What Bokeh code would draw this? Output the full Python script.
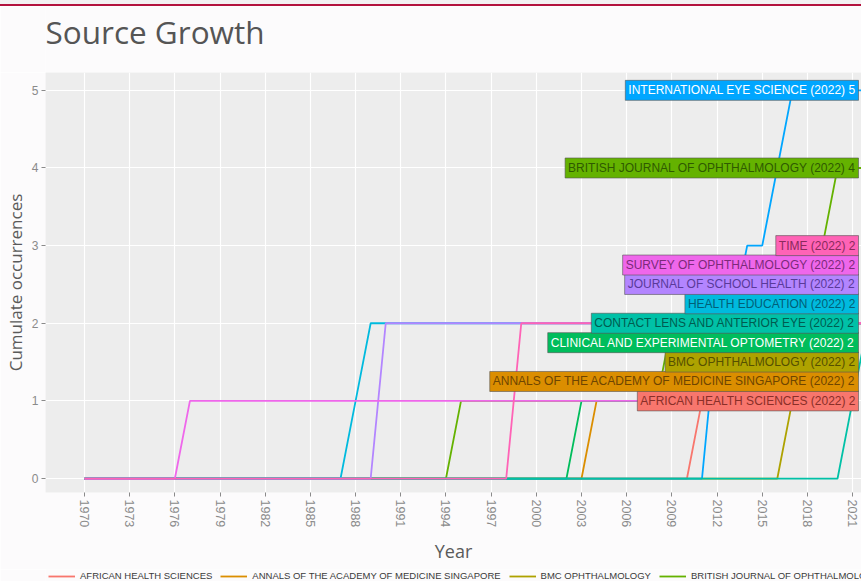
import numpy as np
from bokeh.plotting import figure
from bokeh.models import Range1d, FixedTicker, Label, Legend, LegendItem, Div, Title
from bokeh.layouts import column
from bokeh.embed import file_html
from bokeh.resources import INLINE

# ---------------- data ----------------
title_text = "Source Growth"
x_title = "Year"
y_title = "Cumulate occurrences"

sources = [
    "AFRICAN HEALTH SCIENCES",
    "ANNALS OF THE ACADEMY OF MEDICINE SINGAPORE",
    "BMC OPHTHALMOLOGY",
    "BRITISH JOURNAL OF OPHTHALMOLOGY",
    "CLINICAL AND EXPERIMENTAL OPTOMETRY",
    "CONTACT LENS AND ANTERIOR EYE",
    "HEALTH EDUCATION",
    "INTERNATIONAL EYE SCIENCE",
    "JOURNAL OF SCHOOL HEALTH",
    "SURVEY OF OPHTHALMOLOGY",
    "TIME",
]

# cumulative occurrences: (year, value) vertices
african_years = [1970, 2010, 2011, 2013, 2014, 2022]
african_cum = [0, 0, 1, 1, 2, 2]
annals_years = [1970, 2003, 2004, 2016, 2017, 2022]
annals_cum = [0, 0, 1, 1, 2, 2]
bmc_years = [1970, 2016, 2017, 2020, 2021, 2022]
bmc_cum = [0, 0, 1, 1, 2, 2]
british_years = [1970, 1994, 1995, 2008, 2009, 2018, 2019, 2020, 2022]
british_cum = [0, 0, 1, 1, 2, 2, 3, 4, 4]
clinical_years = [1970, 2002, 2003, 2014, 2015, 2022]
clinical_cum = [0, 0, 1, 1, 2, 2]
contact_years = [1970, 2020, 2021, 2022]
contact_cum = [0, 0, 1, 2]
health_years = [1970, 1987, 1988, 1989, 2022]
health_cum = [0, 0, 1, 2, 2]
intl_years = [1970, 2011, 2012, 2013, 2014, 2015, 2016, 2017, 2022]
intl_cum = [0, 0, 2, 2, 3, 3, 4, 5, 5]
school_years = [1970, 1989, 1990, 2022]
school_cum = [0, 0, 2, 2]
survey_years = [1970, 1976, 1977, 2019, 2020, 2022]
survey_cum = [0, 0, 1, 1, 2, 2]
time_years = [1970, 1998, 1999, 2022]
time_cum = [0, 0, 2, 2]

series_years = [african_years, annals_years, bmc_years, british_years, clinical_years,
                contact_years, health_years, intl_years, school_years, survey_years, time_years]
series_cum = [african_cum, annals_cum, bmc_cum, british_cum, clinical_cum,
              contact_cum, health_cum, intl_cum, school_cum, survey_cum, time_cum]

final_year = 2022
final_counts = [2, 2, 2, 4, 2, 2, 2, 5, 2, 2, 2]

year_ticks = [1970, 1973, 1976, 1979, 1982, 1985, 1988, 1991, 1994, 1997,
              2000, 2003, 2006, 2009, 2012, 2015, 2018, 2021]
y_ticks = [0, 1, 2, 3, 4, 5]

# ---------------- style ----------------
colors = ["#F8766D", "#DB8E00", "#AEA200", "#64B200", "#00BD5C", "#00C1A7",
          "#00BADE", "#00A6FF", "#B385FF", "#EF67EB", "#FF63B6"]
label_text_colors = ["#8a2f28", "#6e4500", "#555000", "#2f5a00", "#ffffff", "#005c50",
                     "#005f78", "#ffffff", "#5a3a9a", "#7c2a7a", "#8a2a5c"]
draw_order = [0, 1, 2, 3, 4, 6, 7, 5, 8, 9, 10]
page_bg = "#fcfbfc"
W = 861
LEFT = 45   # left border shared (aligned) by all stacked figures

x_lo, x_hi = 1967.41, 2021.59
y_lo, y_hi = -0.18, 5.23


def bare_figure(h):
    f = figure(width=W, height=h, x_range=Range1d(0, W - LEFT), y_range=Range1d(0, h),
               output_backend="svg", toolbar_location=None, title=None,
               x_axis_location=None, y_axis_location=None,
               min_border=0, min_border_left=LEFT, min_border_right=0,
               min_border_top=0, min_border_bottom=0)
    f.grid.visible = False
    f.outline_line_color = None
    f.background_fill_color = page_bg
    f.border_fill_color = page_bg
    return f


# thin page header line
top_bar = Div(text="", width=W, height=6, margin=0,
              styles={"background-color": "#f3f1f2", "border-bottom": "2px solid #b3123e",
                      "box-sizing": "border-box"})

# ---- title strip ----
title_fig = bare_figure(66)
title_fig.add_layout(Label(x=0, y=41, x_units="data", y_units="data", text=title_text,
                           text_align="left", text_baseline="alphabetic",
                           text_font="Open Sans", text_font_size="31.5px",
                           text_color="#555555"))

# ---- main plot ----
p = figure(width=W, height=497, x_range=Range1d(x_lo, x_hi), y_range=Range1d(y_lo, y_hi),
           output_backend="svg", toolbar_location=None, title=None,
           min_border_left=LEFT, min_border_right=0, min_border_top=0, min_border_bottom=77)

p.background_fill_color = "#ededed"
p.border_fill_color = page_bg
p.outline_line_color = None

# grid
p.xgrid.ticker = FixedTicker(ticks=year_ticks)
p.ygrid.ticker = FixedTicker(ticks=y_ticks)
p.grid.grid_line_color = "white"
p.grid.grid_line_width = 1.2

# axes
p.xaxis.ticker = FixedTicker(ticks=year_ticks)
p.yaxis.ticker = FixedTicker(ticks=y_ticks)
for ax in (p.xaxis[0], p.yaxis[0]):
    ax.axis_line_color = None
    ax.major_tick_in = 0
    ax.major_tick_out = 4
    ax.major_tick_line_color = "#8a8a8a"
    ax.minor_tick_line_color = None
    ax.major_label_text_color = "#8a8a8a"
    ax.major_label_text_font = "Liberation Sans"
    ax.major_label_standoff = 3
p.xaxis.major_label_orientation = "vertical"
p.xaxis.major_label_text_font_size = "12.5px"
p.yaxis.major_label_text_font_size = "12px"

p.yaxis.axis_label = y_title
p.yaxis.axis_label_text_font = "Open Sans"
p.yaxis.axis_label_text_font_size = "17px"
p.yaxis.axis_label_text_font_style = "normal"
p.yaxis.axis_label_text_color = "#5a5a5a"
p.yaxis.axis_label_standoff = 2

# x-axis title, centred on the original (wider) panel
p.add_layout(Title(text=x_title, align="center", offset=23, standoff=13,
                   text_font="Open Sans", text_font_size="18px", text_font_style="normal",
                   text_color="#5a5a5a"), "below")

# lines
renderers = {}
for i in draw_order:
    renderers[i] = p.line(series_years[i], series_cum[i], line_color=colors[i], line_width=1.8)

# end labels (stack ties)
groups = {}
for i, v in enumerate(final_counts):
    groups.setdefault(v, []).append(i)
for v, idx in groups.items():
    n = len(idx)
    for k, i in enumerate(idx):
        ly = v + (k - (n - 1) / 2.0) * 0.25
        p.add_layout(Label(x=x_hi, y=ly, x_units="data", y_units="data", x_offset=-3,
                           text=f"{sources[i]} ({final_year}) {final_counts[i]}",
                           text_align="right", text_baseline="middle",
                           text_font="Liberation Sans", text_font_size="12px",
                           text_color=label_text_colors[i],
                           background_fill_color=colors[i], background_fill_alpha=1.0,
                           border_line_color="#555555", border_line_alpha=0.6,
                           padding=3))

# ---- legend strip (its lines carry the same series, outside this strip's view) ----
leg_fig = bare_figure(12)
leg_items = []
for i in range(len(sources)):
    r = leg_fig.line(series_years[i], series_cum[i], line_color=colors[i], line_width=1.8)
    leg_items.append(LegendItem(label=sources[i], renderers=[r]))
legend = Legend(items=leg_items, orientation="horizontal", location=(3, 0),
                label_text_font="Liberation Sans", label_text_font_size="9.5px",
                label_text_color="#3a3a3a", glyph_width=27, glyph_height=10,
                label_standoff=5, spacing=8, padding=0, margin=0,
                background_fill_alpha=0, border_line_color=None)
leg_fig.add_layout(legend)

layout = column(top_bar, title_fig, p, leg_fig, spacing=0)
open("out.html", "w").write(file_html(layout, INLINE))
